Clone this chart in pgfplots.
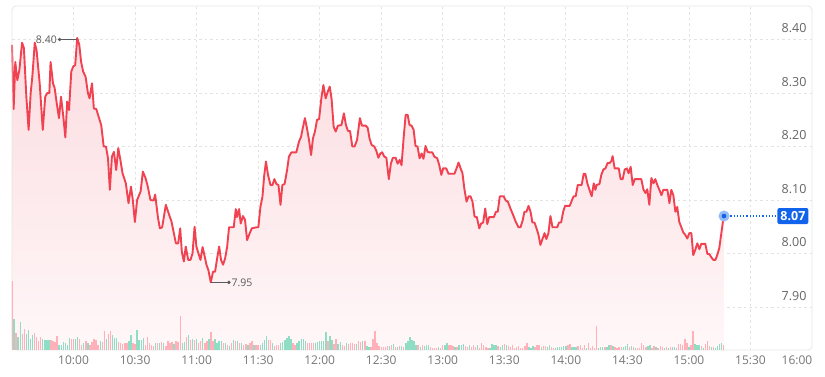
\documentclass[border=0pt]{standalone}
\usepackage{pgfplots}
\pgfplotsset{compat=1.18}
\usepackage{pgfplotstable}
\usepackage{fontspec}
\setmainfont{Open Sans}
\definecolor{linered}{RGB}{240,66,80}
\definecolor{filltop}{RGB}{251,220,224}
\definecolor{fillbot}{RGB}{255,247,248}
\definecolor{volred}{RGB}{255,176,184}
\definecolor{volgreen}{RGB}{144,221,198}
\definecolor{gridc}{RGB}{226,226,226}
\definecolor{framec}{RGB}{230,230,230}
\definecolor{xlab}{RGB}{118,118,118}
\definecolor{ylab}{RGB}{100,100,100}
\definecolor{annot}{RGB}{90,90,90}
\definecolor{boxblue}{RGB}{18,99,235}
\definecolor{halo}{RGB}{150,188,248}
\definecolor{dotblue}{RGB}{25,95,225}

\pgfplotstableread{
t p
0 8.390
0.8 8.270
1.6 8.358
2.6 8.324
3.6 8.343
4.9 8.394
5.8 8.384
7.0 8.293
8.1 8.231
9.1 8.300
9.9 8.330
11.1 8.394
12.0 8.379
13.5 8.318
15.0 8.231
16.2 8.293
17.2 8.300
18.2 8.300
18.8 8.358
20.0 8.318
20.8 8.309
21.8 8.281
22.9 8.253
23.9 8.293
25.0 8.256
26.0 8.217
26.9 8.284
27.8 8.268
28.9 8.340
29.9 8.350
30.8 8.352
31.8 8.403
32.8 8.390
33.7 8.358
34.7 8.340
35.9 8.330
37.0 8.300
37.8 8.290
39.0 8.318
39.9 8.271
41.1 8.270
42.2 8.256
43.5 8.240
44.7 8.200
45.8 8.200
46.8 8.178
47.7 8.119
48.7 8.181
49.7 8.190
50.8 8.156
51.8 8.197
52.7 8.178
53.9 8.150
55.5 8.131
56.8 8.094
58.0 8.125
58.9 8.100
59.9 8.059
61.0 8.100
62.7 8.116
63.8 8.153
65.1 8.141
66.2 8.125
67.5 8.100
69.0 8.099
69.8 8.110
71.2 8.066
72.1 8.047
73.2 8.049
75.0 8.091
76.1 8.078
77.8 8.059
78.9 8.038
79.9 8.019
81.0 8.019
82.0 8.047
82.8 8.003
83.8 7.985
84.7 8.013
85.9 7.988
87.0 7.988
88.0 8.000
89.0 8.050
89.9 8.013
90.9 8.000
91.9 7.988
92.9 8.012
93.8 7.997
94.8 7.979
95.8 7.968
96.9 7.946
98.0 7.966
99.0 7.966
100.0 7.991
101.0 8.013
101.9 7.988
102.9 7.979
103.9 7.991
104.9 8.013
105.8 8.049
107.1 8.049
108.1 8.049
109.1 8.083
109.7 8.068
110.7 8.083
111.5 8.056
112.6 8.070
113.6 8.063
114.6 8.025
115.9 8.038
116.9 8.047
119.2 8.049
120.1 8.049
121.1 8.087
122.1 8.106
122.9 8.144
123.8 8.172
124.8 8.147
126.0 8.128
127.0 8.128
127.9 8.139
128.9 8.130
129.9 8.128
130.9 8.091
131.8 8.128
132.9 8.130
134.1 8.156
135.0 8.181
136.2 8.189
138.6 8.189
139.9 8.209
140.9 8.218
141.9 8.237
142.8 8.253
143.8 8.234
144.8 8.212
145.8 8.184
146.7 8.215
147.7 8.228
148.7 8.250
149.7 8.251
150.8 8.290
151.8 8.315
152.9 8.290
153.9 8.302
154.9 8.312
155.8 8.289
156.8 8.237
157.8 8.228
158.9 8.239
160.6 8.240
161.8 8.262
162.8 8.240
163.8 8.229
164.8 8.229
165.9 8.200
167.0 8.200
168.2 8.212
169.6 8.253
170.6 8.239
172.4 8.239
173.4 8.235
174.3 8.215
175.3 8.203
176.6 8.200
177.6 8.192
178.6 8.179
179.6 8.187
180.5 8.189
181.5 8.181
182.5 8.179
183.7 8.139
184.7 8.168
185.7 8.179
187.0 8.179
188.0 8.168
189.0 8.175
189.9 8.165
190.9 8.215
191.9 8.259
192.9 8.259
193.8 8.240
194.8 8.239
195.8 8.231
196.7 8.201
197.7 8.200
198.7 8.178
199.7 8.187
200.6 8.177
201.6 8.201
202.6 8.190
203.6 8.189
204.9 8.189
205.9 8.181
207.3 8.178
208.3 8.165
209.3 8.147
210.2 8.159
211.7 8.159
212.8 8.149
214.1 8.149
215.7 8.149
216.7 8.159
217.7 8.170
218.7 8.159
219.6 8.150
220.6 8.119
221.6 8.097
222.6 8.107
223.5 8.107
224.5 8.097
225.5 8.069
226.6 8.068
227.8 8.047
228.7 8.056
229.7 8.058
230.7 8.084
231.7 8.055
232.6 8.068
233.9 8.068
234.9 8.068
235.9 8.078
236.8 8.078
237.8 8.107
238.8 8.107
239.7 8.107
240.7 8.099
241.7 8.097
243.0 8.084
244.3 8.072
245.6 8.059
246.9 8.049
247.9 8.049
248.9 8.061
249.8 8.078
250.8 8.078
251.8 8.089
252.8 8.078
253.7 8.058
254.7 8.058
255.7 8.047
256.6 8.036
257.6 8.016
258.6 8.027
259.6 8.038
260.5 8.027
261.5 8.038
262.5 8.070
263.5 8.049
264.4 8.049
265.8 8.049
266.7 8.058
267.7 8.058
268.7 8.078
269.6 8.089
270.9 8.089
271.9 8.089
272.9 8.099
273.8 8.107
274.8 8.107
275.8 8.128
276.8 8.128
277.7 8.128
278.7 8.149
279.5 8.149
280.5 8.131
281.5 8.119
282.6 8.107
283.6 8.131
284.4 8.119
285.0 8.128
286.4 8.130
287.3 8.147
288.3 8.157
289.3 8.159
290.3 8.169
291.3 8.169
292.2 8.173
292.8 8.182
293.8 8.159
294.8 8.159
295.8 8.159
296.7 8.139
297.7 8.139
298.7 8.157
299.7 8.159
300.6 8.150
301.6 8.162
302.6 8.128
303.6 8.139
304.5 8.139
305.8 8.139
306.8 8.139
307.8 8.120
308.8 8.113
309.7 8.120
310.7 8.091
311.7 8.141
312.7 8.131
313.6 8.139
314.6 8.128
315.6 8.119
316.6 8.109
317.5 8.119
318.5 8.119
319.5 8.119
320.5 8.094
321.4 8.119
322.4 8.109
323.4 8.078
324.3 8.087
325.3 8.059
326.3 8.049
327.3 8.039
328.2 8.035
329.2 8.028
330.2 8.038
331.2 8.038
332.1 7.997
333.1 8.007
334.1 8.019
335.1 8.008
336.0 8.018
337.0 8.018
338.0 8.018
339.0 7.999
339.9 7.999
340.9 7.993
341.9 7.988
342.9 7.988
343.8 7.997
344.8 8.010
345.8 8.038
346.8 8.066
347.1 8.070
}\pricetable

% volume (thousand shares) per minute from 9:30; g=1 up (green), g=0 down (red)
\pgfplotstableread[row sep=\\]{
v g \\
69 0 \\ 31 1 \\ 17 0 \\ 13 1 \\ 28 1 \\ 16 0 \\ 21 0 \\ 16 1 \\ 20 1 \\ 11 1 \\
15 1 \\ 17 0 \\ 13 0 \\ 9 0 \\ 13 0 \\ 11 1 \\ 10 1 \\ 10 1 \\ 10 1 \\ 10 0 \\
9 0 \\ 8 0 \\ 14 0 \\ 5 1 \\ 5 1 \\ 8 1 \\ 7 1 \\ 5 1 \\ 12 1 \\ 11 0 \\
11 0 \\ 11 1 \\ 13 1 \\ 11 0 \\ 5 0 \\ 7 1 \\ 9 0 \\ 7 1 \\ 5 0 \\ 8 0 \\
11 0 \\ 10 0 \\ 5 0 \\ 9 1 \\ 8 0 \\ 19 0 \\ 11 1 \\ 16 0 \\ 19 0 \\ 15 1 \\
12 1 \\ 12 1 \\ 8 0 \\ 7 0 \\ 6 0 \\ 7 0 \\ 7 0 \\ 9 1 \\ 15 1 \\ 7 0 \\
6 0 \\ 20 1 \\ 10 1 \\ 10 1 \\ 12 1 \\ 5 0 \\ 13 0 \\ 7 0 \\ 5 0 \\ 4 0 \\
7 1 \\ 7 0 \\ 7 1 \\ 8 0 \\ 7 1 \\ 4 0 \\ 9 0 \\ 7 0 \\ 8 0 \\ 6 1 \\
9 0 \\ 8 0 \\ 34 0 \\ 7 1 \\ 8 1 \\ 13 0 \\ 15 1 \\ 10 0 \\ 11 1 \\ 10 0 \\
11 1 \\ 7 0 \\ 9 0 \\ 12 1 \\ 7 0 \\ 9 0 \\ 11 1 \\ 18 0 \\ 9 0 \\ 11 1 \\
7 1 \\ 9 1 \\ 9 1 \\ 7 0 \\ 7 1 \\ 5 0 \\ 4 1 \\ 7 0 \\ 10 1 \\ 9 0 \\
9 1 \\ 7 0 \\ 7 1 \\ 5 0 \\ 6 0 \\ 5 1 \\ 7 0 \\ 9 0 \\ 5 1 \\ 5 0 \\
5 0 \\ 5 1 \\ 7 1 \\ 10 1 \\ 14 1 \\ 10 0 \\
10 0 \\ 7 1 \\ 4 0 \\ 5 0 \\ 5 0 \\ 7 1 \\ 8 1 \\ 10 1 \\ 12 1 \\ 14 1 \\
11 1 \\ 7 0 \\ 5 0 \\ 7 1 \\ 9 1 \\ 11 1 \\ 11 1 \\ 9 1 \\ 7 0 \\ 7 0 \\
7 0 \\ 7 0 \\ 7 1 \\ 8 1 \\ 9 1 \\ 9 1 \\ 9 1 \\ 18 1 \\ 9 0 \\ 14 1 \\
10 1 \\ 6 0 \\ 11 0 \\ 6 1 \\ 8 1 \\ 5 0 \\ 4 0 \\ 7 1 \\ 6 0 \\ 7 0 \\
7 0 \\ 6 0 \\ 6 1 \\ 9 0 \\ 8 0 \\ 9 1 \\ 9 0 \\ 4 1 \\ 3 1 \\ 3 0 \\
11 0 \\ 19 0 \\ 7 0 \\ 4 0 \\ 3 0 \\ 3 0 \\ 3 0 \\ 4 0 \\ 4 1 \\ 5 0 \\
6 1 \\ 3 0 \\ 3 1 \\ 4 0 \\ 4 1 \\ 3 0 \\ 7 1 \\ 9 1 \\ 13 1 \\ 10 1 \\
9 1 \\ 5 1 \\ 5 0 \\ 3 1 \\ 5 0 \\ 4 1 \\ 5 1 \\ 5 1 \\ 3 0 \\ 2 0 \\
2 0 \\ 2 0 \\ 3 1 \\ 2 0 \\ 5 0 \\ 5 1 \\ 7 1 \\ 5 0 \\ 5 0 \\ 4 0 \\
3 1 \\ 3 0 \\ 5 1 \\ 5 1 \\ 6 1 \\ 4 0 \\ 3 0 \\ 5 1 \\ 3 0 \\ 5 0 \\
3 0 \\ 5 1 \\ 2 0 \\ 7 0 \\ 5 0 \\ 3 0 \\ 2 0 \\ 2 1 \\ 6 1 \\ 5 1 \\
5 1 \\ 4 0 \\ 3 1 \\ 5 1 \\ 6 0 \\ 5 1 \\ 4 0 \\ 3 0 \\ 5 0 \\ 2 0 \\
3 0 \\ 4 0 \\ 2 0 \\ 2 0 \\ 4 0 \\ 7 0 \\ 3 1 \\ 2 1 \\ 4 1 \\ 3 0 \\
5 0 \\ 5 0 \\ 3 1 \\ 4 0 \\ 4 0 \\
3 1 \\ 5 1 \\ 3 0 \\ 2 0 \\ 2 1 \\ 3 1 \\ 3 1 \\ 3 1 \\ 4 1 \\ 4 1 \\
5 0 \\ 6 0 \\ 3 1 \\ 3 1 \\ 3 1 \\ 4 0 \\ 5 0 \\ 2 0 \\ 5 0 \\ 2 1 \\
7 0 \\ 2 0 \\ 4 0 \\ 2 0 \\ 24 0 \\ 2 1 \\ 3 1 \\ 3 1 \\ 3 0 \\ 3 1 \\
5 1 \\ 5 0 \\ 4 1 \\ 3 0 \\ 2 0 \\ 3 0 \\ 3 0 \\ 3 1 \\ 4 1 \\ 6 1 \\
3 0 \\ 4 1 \\ 3 0 \\ 2 1 \\ 2 0 \\ 2 0 \\ 7 0 \\ 5 0 \\ 3 0 \\ 4 1 \\
5 1 \\ 2 0 \\ 4 0 \\ 3 1 \\ 2 0 \\ 4 0 \\ 3 0 \\ 2 1 \\ 3 0 \\ 2 1 \\
3 0 \\ 3 1 \\ 3 1 \\ 2 0 \\ 6 0 \\ 6 0 \\ 5 0 \\ 11 0 \\ 7 0 \\ 3 1 \\
5 0 \\ 19 0 \\ 6 1 \\ 5 1 \\ 5 1 \\ 4 0 \\ 2 1 \\ 6 0 \\ 9 0 \\ 4 0 \\
3 1 \\ 3 0 \\ 2 1 \\ 4 1 \\ 6 1 \\ 7 1 \\ 5 0 \\
}\voltable

\begin{document}
\begin{tikzpicture}
\pgfplotsset{
  chartbase/.style={
    at={(0,0)}, anchor=south west,
    scale only axis, width=800pt, height=344pt,
    xmin=0, xmax=390,
  }
}
% ---------- price axis ----------
\begin{axis}[
  chartbase,
  ymin=7.8196, ymax=8.4626,
  axis line style={draw=none},
  tick style={draw=none},
  clip=false,
  xtick={30,60,90,120,150,180,210,240,270,300,330,360},
  xticklabels={10:00,10:30,11:00,11:30,12:00,12:30,13:00,13:30,14:00,14:30,15:00,15:30},
  extra x ticks={390},
  extra x tick labels={16:00},
  extra x tick style={xmajorgrids=false, xticklabel style={anchor=north east, xshift=0.5pt}},
  xticklabel style={anchor=north, inner sep=0pt, yshift=-6pt, text=xlab, font=\fontsize{12}{14}\selectfont},
  ytick={7.9,8.0,8.1,8.2,8.3,8.4},
  yticklabels={7.90,8.00,8.10,8.20,8.30,8.40},
  yticklabel pos=right,
  yticklabel style={anchor=south east, inner sep=0pt, xshift=-5.3pt, yshift=6.5pt, text=ylab, font=\fontsize{12.5}{14}\selectfont},
  xmajorgrids, ymajorgrids,
  major grid style={draw=gridc, line width=0.8pt, dash pattern=on 2.5pt off 3pt},
]
% shaded area under the price line
\addplot[draw=none, top color=filltop, bottom color=fillbot, forget plot]
  table[x=t, y=p] {\pricetable}
  -- (axis cs:347.1,7.8196) -- (axis cs:0,7.8196) -- cycle;
% price line
\addplot[linered, line width=1.9pt, line join=round, no markers]
  table[x=t, y=p] {\pricetable};
% high / low annotations
\addplot[annot, line width=0.6pt, mark=*, mark size=1.4pt, mark indices={2}]
  coordinates {(31.8,8.40) (23.2,8.40)}
  node[pos=1, anchor=east, inner sep=0pt, xshift=-2.5pt, text=annot, font=\fontsize{10.5}{12}\selectfont] {8.40};
\addplot[annot, line width=0.6pt, mark=*, mark size=1.4pt, mark indices={2}]
  coordinates {(96.9,7.946) (105.7,7.946)}
  node[pos=1, anchor=west, inner sep=0pt, xshift=2.5pt, text=annot, font=\fontsize{10.5}{12}\selectfont] {7.95};
% last price marker and tag
\addplot[boxblue, line width=1.1pt, dash pattern=on 1.2pt off 2pt]
  coordinates {(347.1,8.07) (373.2,8.07)};
\addplot[only marks, color=halo, mark=*, mark size=5.3pt, mark options={solid, draw=halo, fill=halo}]
  coordinates {(347.1,8.07)};
\addplot[only marks, color=dotblue, mark=*, mark size=2.1pt, mark options={solid, draw=dotblue, fill=dotblue}]
  coordinates {(347.1,8.07)};
\node[fill=boxblue, rounded corners=2pt, text=white, inner sep=0pt,
      minimum width=31pt, minimum height=16pt,
      font=\bfseries\fontsize{12.5}{14}\selectfont]
  at (axis cs:380.7,8.07) {8.07};
% frame
\draw[framec, line width=0.8pt, rounded corners=4pt]
  (rel axis cs:0,0) rectangle (rel axis cs:1,1);
\end{axis}
% ---------- volume axis ----------
\begin{axis}[
  chartbase,
  ymin=0, ymax=344,
  hide axis,
]
\addplot[ycomb, draw=volgreen, line width=1.4pt, no markers]
  table[x expr=\coordindex, y expr=\thisrow{v}*\thisrow{g}] {\voltable};
\addplot[ycomb, draw=volred, line width=1.4pt, no markers]
  table[x expr=\coordindex, y expr=\thisrow{v}*(1-\thisrow{g})] {\voltable};
\end{axis}
\pgfresetboundingbox
\path[use as bounding box] (-12pt,-26pt) rectangle (813pt,350pt);
\end{tikzpicture}
\end{document}
